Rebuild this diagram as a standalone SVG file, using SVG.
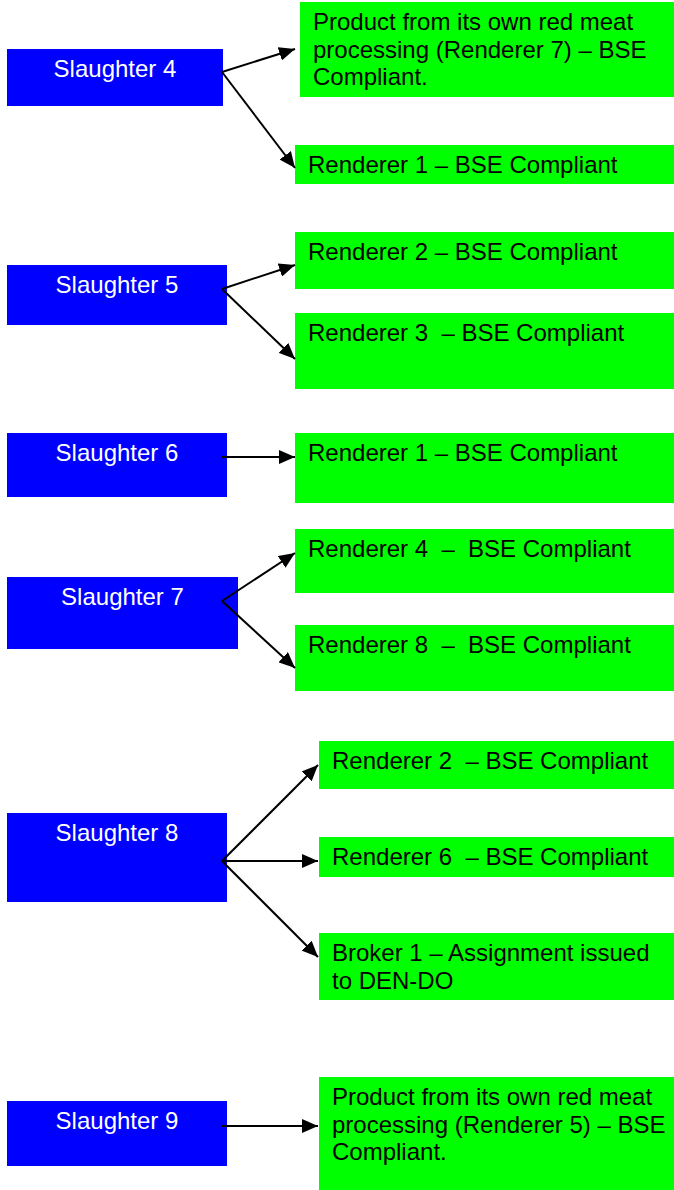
<svg xmlns="http://www.w3.org/2000/svg" width="674" height="1190" viewBox="0 0 674 1190">
<style>
.s{fill:#0000FF}
.r{fill:#00FF00}
.st{fill:#FFFFFF;font-family:"Liberation Sans",Arial,sans-serif;font-size:24px;text-anchor:middle}
.rt{fill:#000000;font-family:"Liberation Sans",Arial,sans-serif;font-size:24px;white-space:pre}
.c{stroke:#000;stroke-width:2;fill:none;marker-end:url(#ah)}
</style>
<defs>
<marker id="ah" markerUnits="userSpaceOnUse" markerWidth="17" markerHeight="14" refX="16" refY="7" orient="auto">
<path d="M0,0 L16,7 L0,14 z" fill="#000"/>
</marker>
</defs>
<rect width="674" height="1190" fill="#FFFFFF"/>
<g id="slaughter4"><rect class="s" x="7" y="49" width="216" height="57"/><text class="st" x="115" y="77">Slaughter 4</text></g>
<g id="product7"><rect class="r" x="300" y="2" width="374" height="95"/><text class="rt" x="313" y="30">Product from its own red meat</text><text class="rt" x="313" y="57.5">processing (Renderer 7) – BSE</text><text class="rt" x="313" y="85">Compliant.</text></g>
<g id="renderer1a"><rect class="r" x="295" y="145" width="379" height="39"/><text class="rt" x="308" y="173">Renderer 1 – BSE Compliant</text></g>

<g id="slaughter5"><rect class="s" x="7" y="265" width="220" height="60"/><text class="st" x="117" y="293">Slaughter 5</text></g>
<g id="renderer2a"><rect class="r" x="295" y="232" width="379" height="57"/><text class="rt" x="308" y="260">Renderer 2 – BSE Compliant</text></g>
<g id="renderer3"><rect class="r" x="295" y="313" width="379" height="76"/><text class="rt" x="308" y="341">Renderer 3  – BSE Compliant</text></g>

<g id="slaughter6"><rect class="s" x="7" y="433" width="220" height="64"/><text class="st" x="117" y="461">Slaughter 6</text></g>
<g id="renderer1b"><rect class="r" x="295" y="433" width="379" height="70"/><text class="rt" x="308" y="461">Renderer 1 – BSE Compliant</text></g>

<g id="slaughter7"><rect class="s" x="7" y="577" width="231" height="72"/><text class="st" x="122.5" y="605">Slaughter 7</text></g>
<g id="renderer4"><rect class="r" x="295" y="529" width="379" height="64"/><text class="rt" x="308" y="557">Renderer 4  –  BSE Compliant</text></g>
<g id="renderer8"><rect class="r" x="295" y="625" width="379" height="66"/><text class="rt" x="308" y="653">Renderer 8  –  BSE Compliant</text></g>

<g id="slaughter8"><rect class="s" x="7" y="813" width="220" height="89"/><text class="st" x="117" y="841">Slaughter 8</text></g>
<g id="renderer2b"><rect class="r" x="319" y="741" width="355" height="48"/><text class="rt" x="332" y="769">Renderer 2  – BSE Compliant</text></g>
<g id="renderer6"><rect class="r" x="319" y="837" width="355" height="40"/><text class="rt" x="332" y="865">Renderer 6  – BSE Compliant</text></g>
<g id="broker1"><rect class="r" x="319" y="933" width="355" height="67"/><text class="rt" x="332" y="961">Broker 1 – Assignment issued</text><text class="rt" x="332" y="989">to DEN-DO</text></g>

<g id="slaughter9"><rect class="s" x="7" y="1101" width="220" height="65"/><text class="st" x="117" y="1129">Slaughter 9</text></g>
<g id="product5"><rect class="r" x="319" y="1077" width="355" height="113"/><text class="rt" x="332" y="1105">Product from its own red meat</text><text class="rt" x="332" y="1132.5">processing (Renderer 5) – BSE</text><text class="rt" x="332" y="1160">Compliant.</text></g>

<g id="connectors">
<line class="c" x1="222" y1="72" x2="295" y2="49"/>
<line class="c" x1="222" y1="72" x2="295" y2="168"/>
<line class="c" x1="222" y1="289" x2="295" y2="265"/>
<line class="c" x1="222" y1="289" x2="295" y2="359"/>
<line class="c" x1="222" y1="457" x2="295" y2="457"/>
<line class="c" x1="222" y1="601" x2="295" y2="553"/>
<line class="c" x1="222" y1="601" x2="295" y2="668"/>
<line class="c" x1="222" y1="861" x2="318" y2="765"/>
<line class="c" x1="222" y1="861" x2="318" y2="861"/>
<line class="c" x1="222" y1="861" x2="318" y2="957"/>
<line class="c" x1="222" y1="1126" x2="318" y2="1126"/>
</g>
</svg>
